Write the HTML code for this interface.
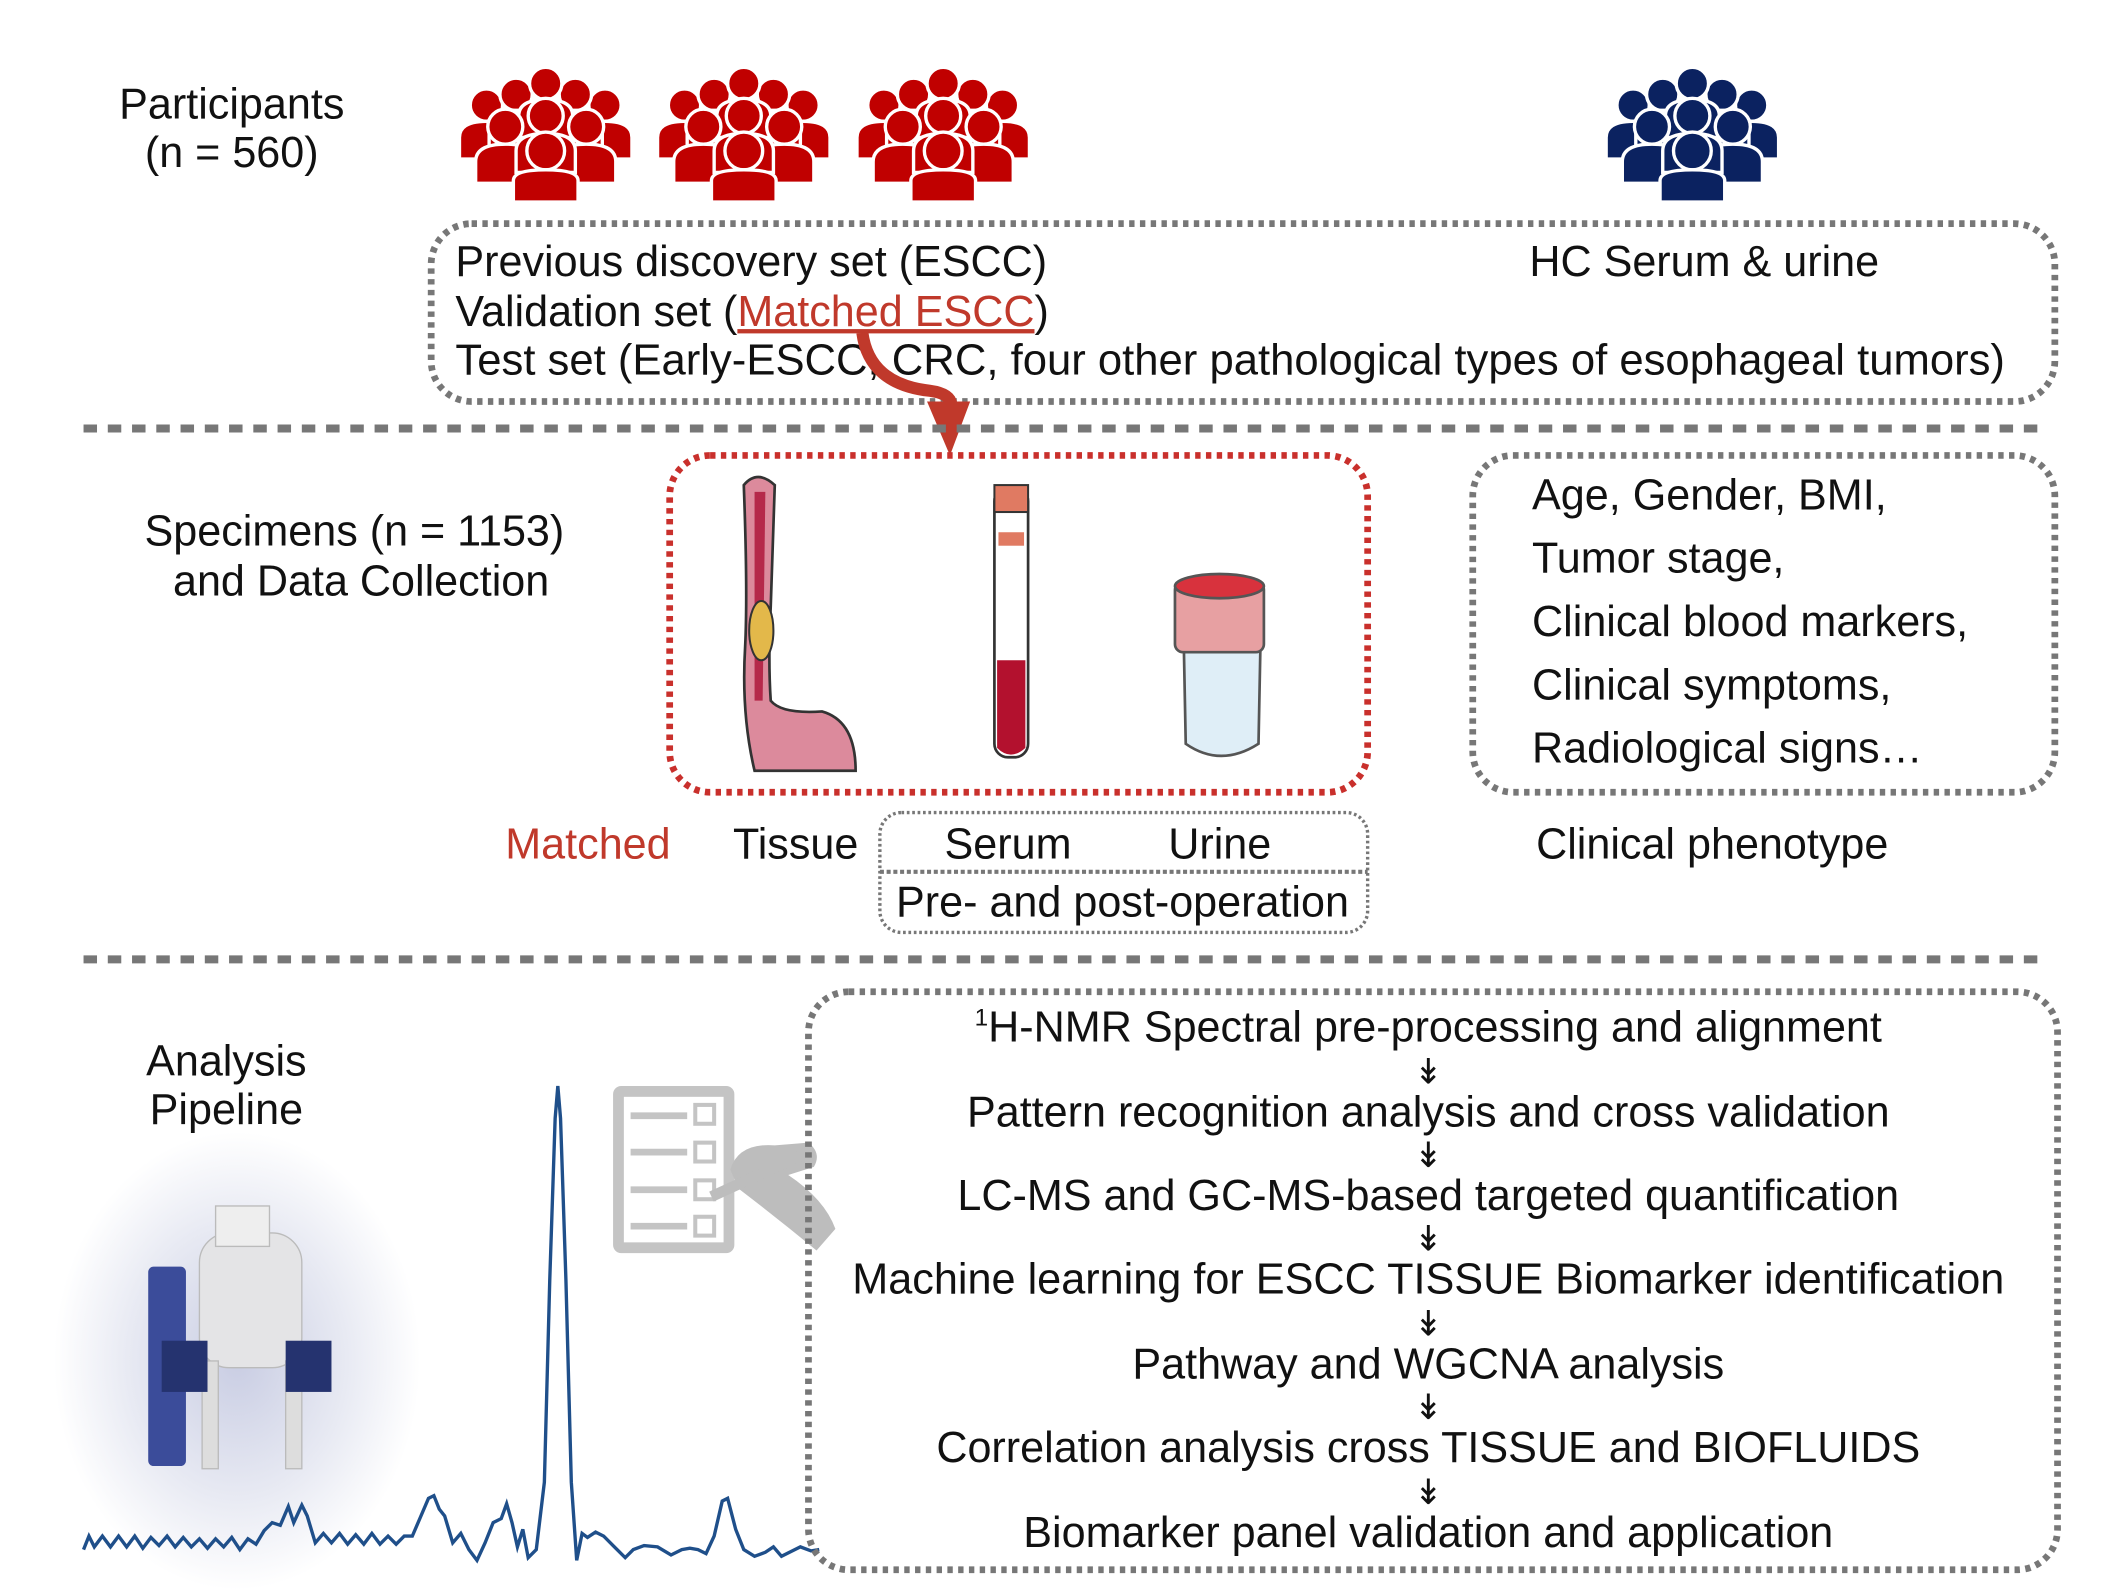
<!DOCTYPE html>
<html><head><meta charset="utf-8"><style>
html,body{margin:0;padding:0;background:#fff;}
svg{display:block;}
text{font-family:"Liberation Sans",Arial,sans-serif;fill:#111;}
</style></head><body>
<svg width="2102" height="1590" viewBox="0 0 1560 1180" preserveAspectRatio="none" xmlns="http://www.w3.org/2000/svg">
<defs>
<g id="ppl">
  <g stroke="#fff" stroke-width="2.5">
  <circle cx="-44" cy="28" r="12"/><path d="M-64 68 V52 Q-64 40 -44 40 Q-24 40 -24 52 V68Z"/>
  <circle cx="44" cy="28" r="12"/><path d="M24 68 V52 Q24 40 44 40 Q64 40 64 52 V68Z"/>
  <circle cx="-22" cy="20" r="12"/><path d="M-42 60 V44 Q-42 32 -22 32 Q-2 32 -2 44 V60Z"/>
  <circle cx="22" cy="20" r="12"/><path d="M2 60 V44 Q2 32 22 32 Q42 32 42 44 V60Z"/>
  <circle cx="0" cy="12" r="12"/><path d="M-20 52 V36 Q-20 24 0 24 Q20 24 20 36 V52Z"/>
  <circle cx="-30" cy="44" r="13"/><path d="M-52 86 V70 Q-52 57 -30 57 Q-8 57 -8 70 V86Z"/>
  <circle cx="30" cy="44" r="13"/><path d="M8 86 V70 Q8 57 30 57 Q52 57 52 70 V86Z"/>
  <circle cx="0" cy="36" r="13"/><path d="M-22 78 V62 Q-22 49 0 49 Q22 49 22 62 V78Z"/>
  <circle cx="0" cy="62" r="14"/><path d="M-24 100 V84 Q-24 76 0 76 Q24 76 24 84 V100Z"/>
  </g>
</g>
<radialGradient id="glow" cx="0.5" cy="0.5" r="0.5">
  <stop offset="0" stop-color="#c9cde3"/><stop offset="0.6" stop-color="#e8eaf3"/><stop offset="1" stop-color="#fff"/>
</radialGradient>
</defs>

<g font-size="32">
<text x="172" y="88" text-anchor="middle">Participants</text>
<text x="172" y="124" text-anchor="middle">(n = 560)</text>
</g>
<g fill="#c00000">
<use href="#ppl" transform="translate(405,50)"/>
<use href="#ppl" transform="translate(552,50)"/>
<use href="#ppl" transform="translate(700,50)"/>
</g>
<use href="#ppl" transform="translate(1256,50)" fill="#0b2260"/>

<rect x="320" y="166" width="1205" height="132" rx="30" fill="none" stroke="#777" stroke-width="5" stroke-dasharray="4 4"/>
<g font-size="32">
<text x="338" y="205">Previous discovery set (ESCC)</text>
<text x="1135" y="205">HC Serum &amp; urine</text>
<text x="338" y="242">Validation set (<tspan fill="#c0392b" style="fill:#c0392b" text-decoration="underline">Matched ESCC</tspan>)</text>
<text x="338" y="278" textLength="1150" lengthAdjust="spacingAndGlyphs">Test set (Early-ESCC, CRC,  four other pathological types of  esophageal tumors)</text>
</g>
<path d="M640 247 Q645 285 690 290 Q705 292 706 300" fill="none" stroke="#c0392b" stroke-width="9"/>
<polygon points="688,298 720,298 705,338" fill="#c0392b"/>

<line x1="62" y1="318" x2="1520" y2="318" stroke="#777" stroke-width="6" stroke-dasharray="10 8"/>

<g font-size="32">
<text x="263" y="405" text-anchor="middle">Specimens (n = 1153)</text>
<text x="268" y="442" text-anchor="middle">and Data Collection</text>
</g>
<rect x="497" y="338" width="518" height="250" rx="30" fill="none" stroke="#c9302c" stroke-width="5" stroke-dasharray="4 4"/>
<path d="M552 360 Q562 348 575 360 L572 450 Q570 490 572 520 Q580 530 610 528 Q635 535 635 572 L560 572 Q550 530 553 480 Q555 440 552 360Z" fill="#dc8a9c" stroke="#333" stroke-width="2"/>
<path d="M560 365 L568 365 L566 520 L560 520Z" fill="#b5294a"/>
<ellipse cx="565" cy="468" rx="9" ry="22" fill="#e3b84a" stroke="#333" stroke-width="1.5"/>
<rect x="738" y="362" width="25" height="200" rx="10" fill="#fff" stroke="#333" stroke-width="2"/>
<rect x="738" y="360" width="25" height="20" fill="#e07a62" stroke="#333" stroke-width="1.5"/>
<rect x="741" y="395" width="19" height="10" fill="#e07a62"/>
<path d="M740 490 H761 V555 Q750 565 740 555Z" fill="#b3112e"/>
<path d="M878 450 L936 450 L934 552 Q906 570 880 552Z" fill="#dfeef7" stroke="#555" stroke-width="2"/>
<rect x="872" y="432" width="66" height="52" rx="6" fill="#e7a0a2" stroke="#555" stroke-width="2"/>
<ellipse cx="905" cy="435" rx="33" ry="9" fill="#d8323d" stroke="#555" stroke-width="2"/>

<rect x="1093" y="338" width="432" height="250" rx="30" fill="none" stroke="#777" stroke-width="5" stroke-dasharray="4 4"/>
<g font-size="32">
<text x="1137" y="378">Age, Gender,  BMI,</text>
<text x="1137" y="425">Tumor stage,</text>
<text x="1137" y="472">Clinical blood markers,</text>
<text x="1137" y="519">Clinical symptoms,</text>
<text x="1137" y="566">Radiological signs…</text>

<text x="375" y="637" style="fill:#c0392b">Matched</text>
<text x="544" y="637">Tissue</text>
<text x="701" y="637">Serum</text>
<text x="867" y="637">Urine</text>
<text x="1140" y="637">Clinical phenotype</text>
<text x="665" y="680">Pre- and post-operation</text>
</g>
<rect x="653" y="603" width="362" height="89" rx="16" fill="none" stroke="#777" stroke-width="2.5" stroke-dasharray="2 2"/>
<line x1="653" y1="647" x2="1015" y2="647" stroke="#777" stroke-width="3" stroke-dasharray="3 2"/>

<line x1="62" y1="712" x2="1520" y2="712" stroke="#777" stroke-width="6" stroke-dasharray="10 8"/>

<rect x="40" y="840" width="272" height="340" fill="url(#glow)"/>
<g font-size="32">
<text x="168" y="798" text-anchor="middle">Analysis</text>
<text x="168" y="834" text-anchor="middle">Pipeline</text>
</g>
<rect x="110" y="940" width="28" height="148" rx="4" fill="#3b4c9a"/>
<rect x="148" y="915" width="76" height="100" rx="22" fill="#e4e4e6" stroke="#bbb"/>
<rect x="160" y="895" width="40" height="30" fill="#eee" stroke="#bbb"/>
<rect x="150" y="1010" width="12" height="80" fill="#ddd" stroke="#bbb"/>
<rect x="212" y="1010" width="12" height="80" fill="#ddd" stroke="#bbb"/>
<rect x="120" y="995" width="34" height="38" fill="#25336f"/>
<rect x="212" y="995" width="34" height="38" fill="#25336f"/>
<rect x="455" y="806" width="90" height="124" rx="6" fill="#c4c4c4"/>
<rect x="463" y="814" width="74" height="108" fill="#fff"/>
<g stroke="#c4c4c4" stroke-width="5"><line x1="468" y1="828" x2="510" y2="828"/><line x1="468" y1="855" x2="510" y2="855"/><line x1="468" y1="883" x2="510" y2="883"/><line x1="468" y1="910" x2="510" y2="910"/></g>
<g fill="none" stroke="#c4c4c4" stroke-width="3"><rect x="516" y="820" width="14" height="14"/><rect x="516" y="848" width="14" height="14"/><rect x="516" y="876" width="14" height="14"/><rect x="516" y="903" width="14" height="14"/></g>
<path d="M542 868 Q548 848 575 850 L600 848 Q610 856 604 866 L585 872 Q612 890 620 912 L606 928 Q578 905 548 882Z" fill="#bdbdbd"/>
<line x1="528" y1="888" x2="600" y2="855" stroke="#bdbdbd" stroke-width="8"/>
<polyline fill="none" stroke="#1f4f8a" stroke-width="2.5" points="62,1150 66,1140 70,1148 76,1140 82,1148 88,1140 94,1148 100,1140 106,1149 112,1141 118,1147 124,1140 130,1148 136,1141 142,1148 148,1142 154,1149 160,1142 166,1148 172,1141 178,1150 184,1142 190,1146 196,1136 202,1130 208,1132 214,1118 218,1130 224,1117 228,1125 234,1145 240,1138 246,1145 252,1138 258,1146 264,1139 270,1146 276,1138 282,1146 288,1140 294,1146 300,1140 306,1140 312,1126 318,1112 322,1110 326,1120 330,1125 336,1145 342,1138 348,1150 354,1158 360,1145 366,1130 372,1127 376,1116 380,1130 384,1148 388,1135 392,1156 398,1150 404,1100 408,950 412,830 414,806 416,830 420,950 424,1100 428,1158 432,1138 436,1141 442,1137 448,1140 456,1148 464,1156 470,1150 478,1147 488,1148 498,1154 506,1150 512,1149 518,1150 524,1153 530,1140 536,1114 540,1112 546,1135 552,1150 560,1155 568,1152 574,1148 580,1155 588,1151 594,1148 602,1151 608,1150"/>

<rect x="600" y="736" width="927" height="429" rx="30" fill="none" stroke="#777" stroke-width="5" stroke-dasharray="4 4"/>
<g font-size="32" text-anchor="middle">
<text x="1060" y="773"><tspan font-size="18" dy="-12">1</tspan><tspan dy="12">H-NMR Spectral pre-processing and alignment</tspan></text>
<text x="1060" y="836">Pattern recognition analysis and cross validation</text>
<text x="1060" y="898">LC-MS and GC-MS-based targeted quantification</text>
<text x="1060" y="960" textLength="855" lengthAdjust="spacingAndGlyphs">Machine learning for ESCC TISSUE Biomarker identification</text>
<text x="1060" y="1023">Pathway and WGCNA analysis</text>
<text x="1060" y="1085">Correlation analysis cross TISSUE and BIOFLUIDS</text>
<text x="1060" y="1148">Biomarker panel validation and application</text>
<g font-size="26">
<text x="1060" y="804">↡</text><text x="1060" y="866">↡</text><text x="1060" y="928">↡</text>
<text x="1060" y="991">↡</text><text x="1060" y="1053">↡</text><text x="1060" y="1116">↡</text>
</g>
</g>
</svg>
</body></html>
